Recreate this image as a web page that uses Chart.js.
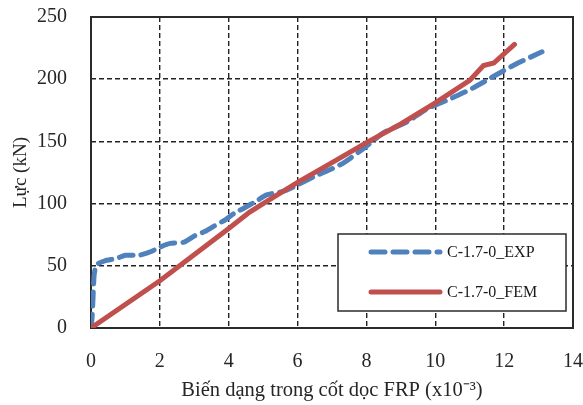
<!DOCTYPE html>
<html>
<head>
<meta charset="utf-8">
<script src="https://cdn.jsdelivr.net/npm/chart.js@4.4.0/dist/chart.umd.min.js"></script>
<style>
  html, body { margin: 0; padding: 0; background: #fff; }
  #wrap { width: 583px; height: 405px; }
</style>
</head>
<body>
<div id="wrap"><canvas id="luc"></canvas></div>
<script>
// strain (x10^-3) / load (kN)
const expStrain = [0, 0.03, 0.06, 0.09, 0.14, 0.22, 0.4, 0.75, 1.0, 1.4, 1.75, 2.0, 2.3, 2.7, 3.0, 3.3, 3.55, 3.9, 4.15, 4.45, 4.8, 5.1, 5.6, 6.0, 6.5, 7.0, 7.35, 7.95, 8.5, 9.2, 9.75, 10.5, 11.1, 11.8, 12.4, 13.1];
const expLoad = [0, 8, 25, 42, 50, 52, 54, 56, 58.5, 58.5, 61.5, 65, 68, 69, 74, 77.5, 81.5, 87, 92, 96.5, 102, 107, 110, 115, 122, 128, 133, 145, 157, 166, 176, 185, 193, 204, 213, 222];

const femStrain = [0, 2, 4, 4.6, 5, 6, 7, 8, 9, 10, 11, 11.4, 11.7, 12.3];
const femLoad = [0, 38, 80, 93, 100, 117, 133, 149, 164, 181, 199, 211, 213, 228];

const xTicks = [0, 2, 4, 6, 8, 10, 12, 14];
const yTicks = [0, 50, 100, 150, 200, 250];

const labels = ["C-1.7-0_EXP", "C-1.7-0_FEM"];
const mau = ["#4F81BD", "#C0504D"];

const FONT = "'Liberation Serif', 'Times New Roman', serif";

function toPoints(xs, ys) {
  return xs.map((v, i) => ({ x: v, y: ys[i] }));
}

function boPadding(s) {
  s.paddingTop = 0;
  s.paddingBottom = 0;
  s.paddingLeft = 0;
  s.paddingRight = 0;
}

// khung vien do thi
const khung = {
  id: "khung",
  beforeDatasetsDraw(chart) {
    const { ctx, chartArea: a } = chart;
    ctx.save();
    ctx.strokeStyle = "#2b2b2b";
    ctx.lineWidth = 2;
    ctx.strokeRect(a.left, a.top, a.right - a.left, a.bottom - a.top);
    ctx.restore();
  },
};

// chu thich ben trong vung ve
const chuThich = {
  id: "chuThich",
  afterDatasetsDraw(chart) {
    const { ctx, chartArea: a } = chart;
    const w = 228, h = 77;
    const left = a.right - 7 - w;
    const top = a.bottom - 17 - h;
    ctx.save();
    ctx.fillStyle = "#fff";
    ctx.fillRect(left, top, w, h);
    ctx.strokeStyle = "#2b2b2b";
    ctx.lineWidth = 1.5;
    ctx.strokeRect(left, top, w, h);
    chart.data.datasets.forEach((ds, i) => {
      const y = top + 18 + i * 40;
      ctx.beginPath();
      ctx.strokeStyle = ds.borderColor;
      ctx.lineWidth = ds.borderWidth;
      ctx.lineCap = "round";
      ctx.setLineDash(ds.borderDash || []);
      ctx.moveTo(left + 33, y);
      ctx.lineTo(left + 102, y);
      ctx.stroke();
      ctx.setLineDash([]);
      ctx.fillStyle = "#1a1a1a";
      ctx.font = "16px " + FONT;
      ctx.textBaseline = "middle";
      ctx.fillText(ds.label, left + 109, y + 1);
    });
    ctx.restore();
  },
};

new Chart(document.getElementById("luc"), {
  type: "scatter",
  data: {
    datasets: [
      {
        label: labels[0],
        data: toPoints(expStrain, expLoad),
        showLine: true,
        borderColor: mau[0],
        backgroundColor: mau[0],
        borderWidth: 5,
        borderDash: [14, 8],
        borderCapStyle: "round",
        pointRadius: 0,
        tension: 0.2,
        order: 2,
      },
      {
        label: labels[1],
        data: toPoints(femStrain, femLoad),
        showLine: true,
        borderColor: mau[1],
        backgroundColor: mau[1],
        borderWidth: 5,
        borderCapStyle: "round",
        pointRadius: 0,
        tension: 0,
        order: 1,
      },
    ],
  },
  options: {
    responsive: true,
    maintainAspectRatio: false,
    animation: false,
    layout: { padding: { top: 17, right: 10, left: 0, bottom: 0 } },
    plugins: {
      legend: { display: false },
      tooltip: { enabled: false },
    },
    scales: {
      x: {
        type: "linear",
        min: 0,
        max: 14,
        afterBuildTicks: (s) => { s.ticks = xTicks.map((v) => ({ value: v })); },
        afterFit: (s) => { s.height = 77; boPadding(s); },
        ticks: {
          padding: 22,
          color: "#262626",
          font: { family: FONT, size: 20 },
        },
        grid: { color: "#222", lineWidth: 1.4, drawTicks: false },
        border: { display: false, dash: [5, 3] },
        title: {
          display: true,
          text: "Biến dạng trong cốt dọc FRP (x10⁻³)",
          color: "#262626",
          font: { family: FONT, size: 20.5 },
          padding: { top: 0, bottom: 2 },
        },
      },
      y: {
        min: 0,
        max: 250,
        afterBuildTicks: (s) => { s.ticks = yTicks.map((v) => ({ value: v })); },
        afterFit: (s) => { s.width = 91; boPadding(s); },
        ticks: {
          padding: 24,
          color: "#262626",
          font: { family: FONT, size: 20 },
        },
        grid: { color: "#222", lineWidth: 1.4, drawTicks: false },
        border: { display: false, dash: [5, 3] },
        title: {
          display: true,
          text: "Lực (kN)",
          color: "#262626",
          font: { family: FONT, size: 19 },
          padding: { top: 10, bottom: 0 },
        },
      },
    },
  },
  plugins: [khung, chuThich],
});
</script>
</body>
</html>
